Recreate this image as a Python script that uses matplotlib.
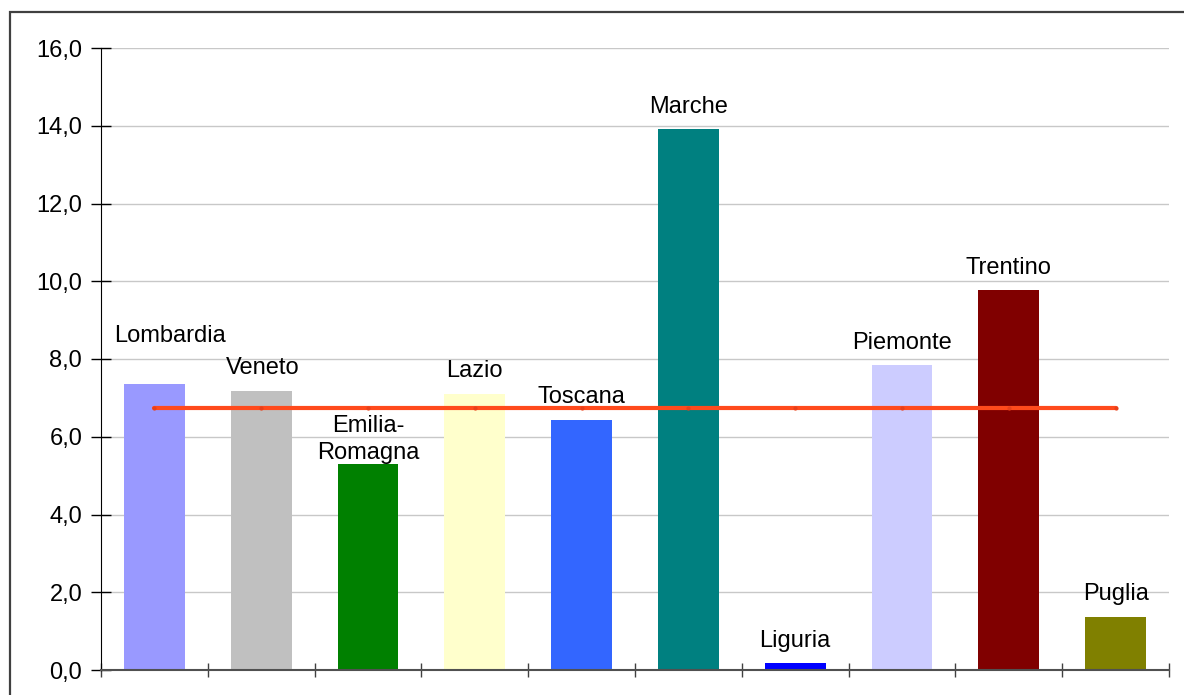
import matplotlib
matplotlib.use('Agg')
import matplotlib.pyplot as plt
from matplotlib.patches import Rectangle
from matplotlib.ticker import FuncFormatter, MultipleLocator
import numpy as np

# valori per regione
regioni = ['Lombardia', 'Veneto', 'Emilia-\nRomagna', 'Lazio', 'Toscana',
           'Marche', 'Liguria', 'Piemonte', 'Trentino', 'Puglia']
valori = [7.36, 7.18, 5.31, 7.10, 6.43, 13.92, 0.18, 7.85, 9.77, 1.36]
media = 6.74
colori = ['#9999FF', '#C0C0C0', '#008000', '#FFFFCC', '#3366FF',
          '#008080', '#0000FF', '#CCCCFF', '#800000', '#808000']
# spostamento etichette rispetto alla cima della barra (punti)
dx_etichette = [11, 1, 0, 0, 0, 0, 0, 0, 0, 0]
dy_etichette = [30, 12, 3, 12, 12, 11.5, 11.5, 11.5, 12, 12]

plt.rcParams['font.family'] = ['Liberation Sans', 'DejaVu Sans']

W, H = 1184, 695
fig = plt.figure(figsize=(W / 100, H / 100), dpi=100)
ax = fig.add_axes([101 / W, 25 / H, (1169 - 101) / W, (670 - 48) / H])

x = np.arange(len(regioni))
ax.bar(x, valori, width=0.57, color=colori, zorder=2)
ax.plot([x[0], x[-1]], [media, media], color='#FF4A1C', lw=3, solid_capstyle='round', zorder=3)
ax.plot(x, [media] * len(x), ls='none', marker='o', ms=2, color='#E8401A', zorder=4)

for xi, v, nome, ox, oy in zip(x, valori, regioni, dx_etichette, dy_etichette):
    ax.annotate(nome, (xi, v), xytext=(ox, oy), textcoords='offset points',
                ha='center', va='baseline', fontsize=17, linespacing=1.3,
                multialignment='center', zorder=5)

ax.set_xlim(-0.5, len(regioni) - 0.5)
ax.set_ylim(0, 16)
ax.yaxis.set_major_locator(MultipleLocator(2))
ax.yaxis.set_major_formatter(FuncFormatter(lambda v, p: f'{v:.1f}'.replace('.', ',')))
ax.set_xticks(np.arange(-0.5, len(regioni), 1.0))
ax.set_xticklabels([])
ax.tick_params(axis='y', direction='inout', length=15, width=1, labelsize=17, pad=6)
ax.tick_params(axis='x', direction='inout', length=10, width=1, color='#404040')
ax.grid(axis='y', color='#C8C8C8', lw=1, zorder=0)
ax.set_axisbelow(True)
for s in ['top', 'right']:
    ax.spines[s].set_visible(False)
ax.spines['left'].set_color('black')
ax.spines['bottom'].set_color('#505050')
ax.spines['bottom'].set_linewidth(1.5)

# cornice esterna
fig.add_artist(Rectangle((10 / W, -0.1), 1.2, (H - 12) / H + 0.1, transform=fig.transFigure,
                         fill=False, ec='#404040', lw=1.6))

fig.savefig('out.png', dpi=100)
